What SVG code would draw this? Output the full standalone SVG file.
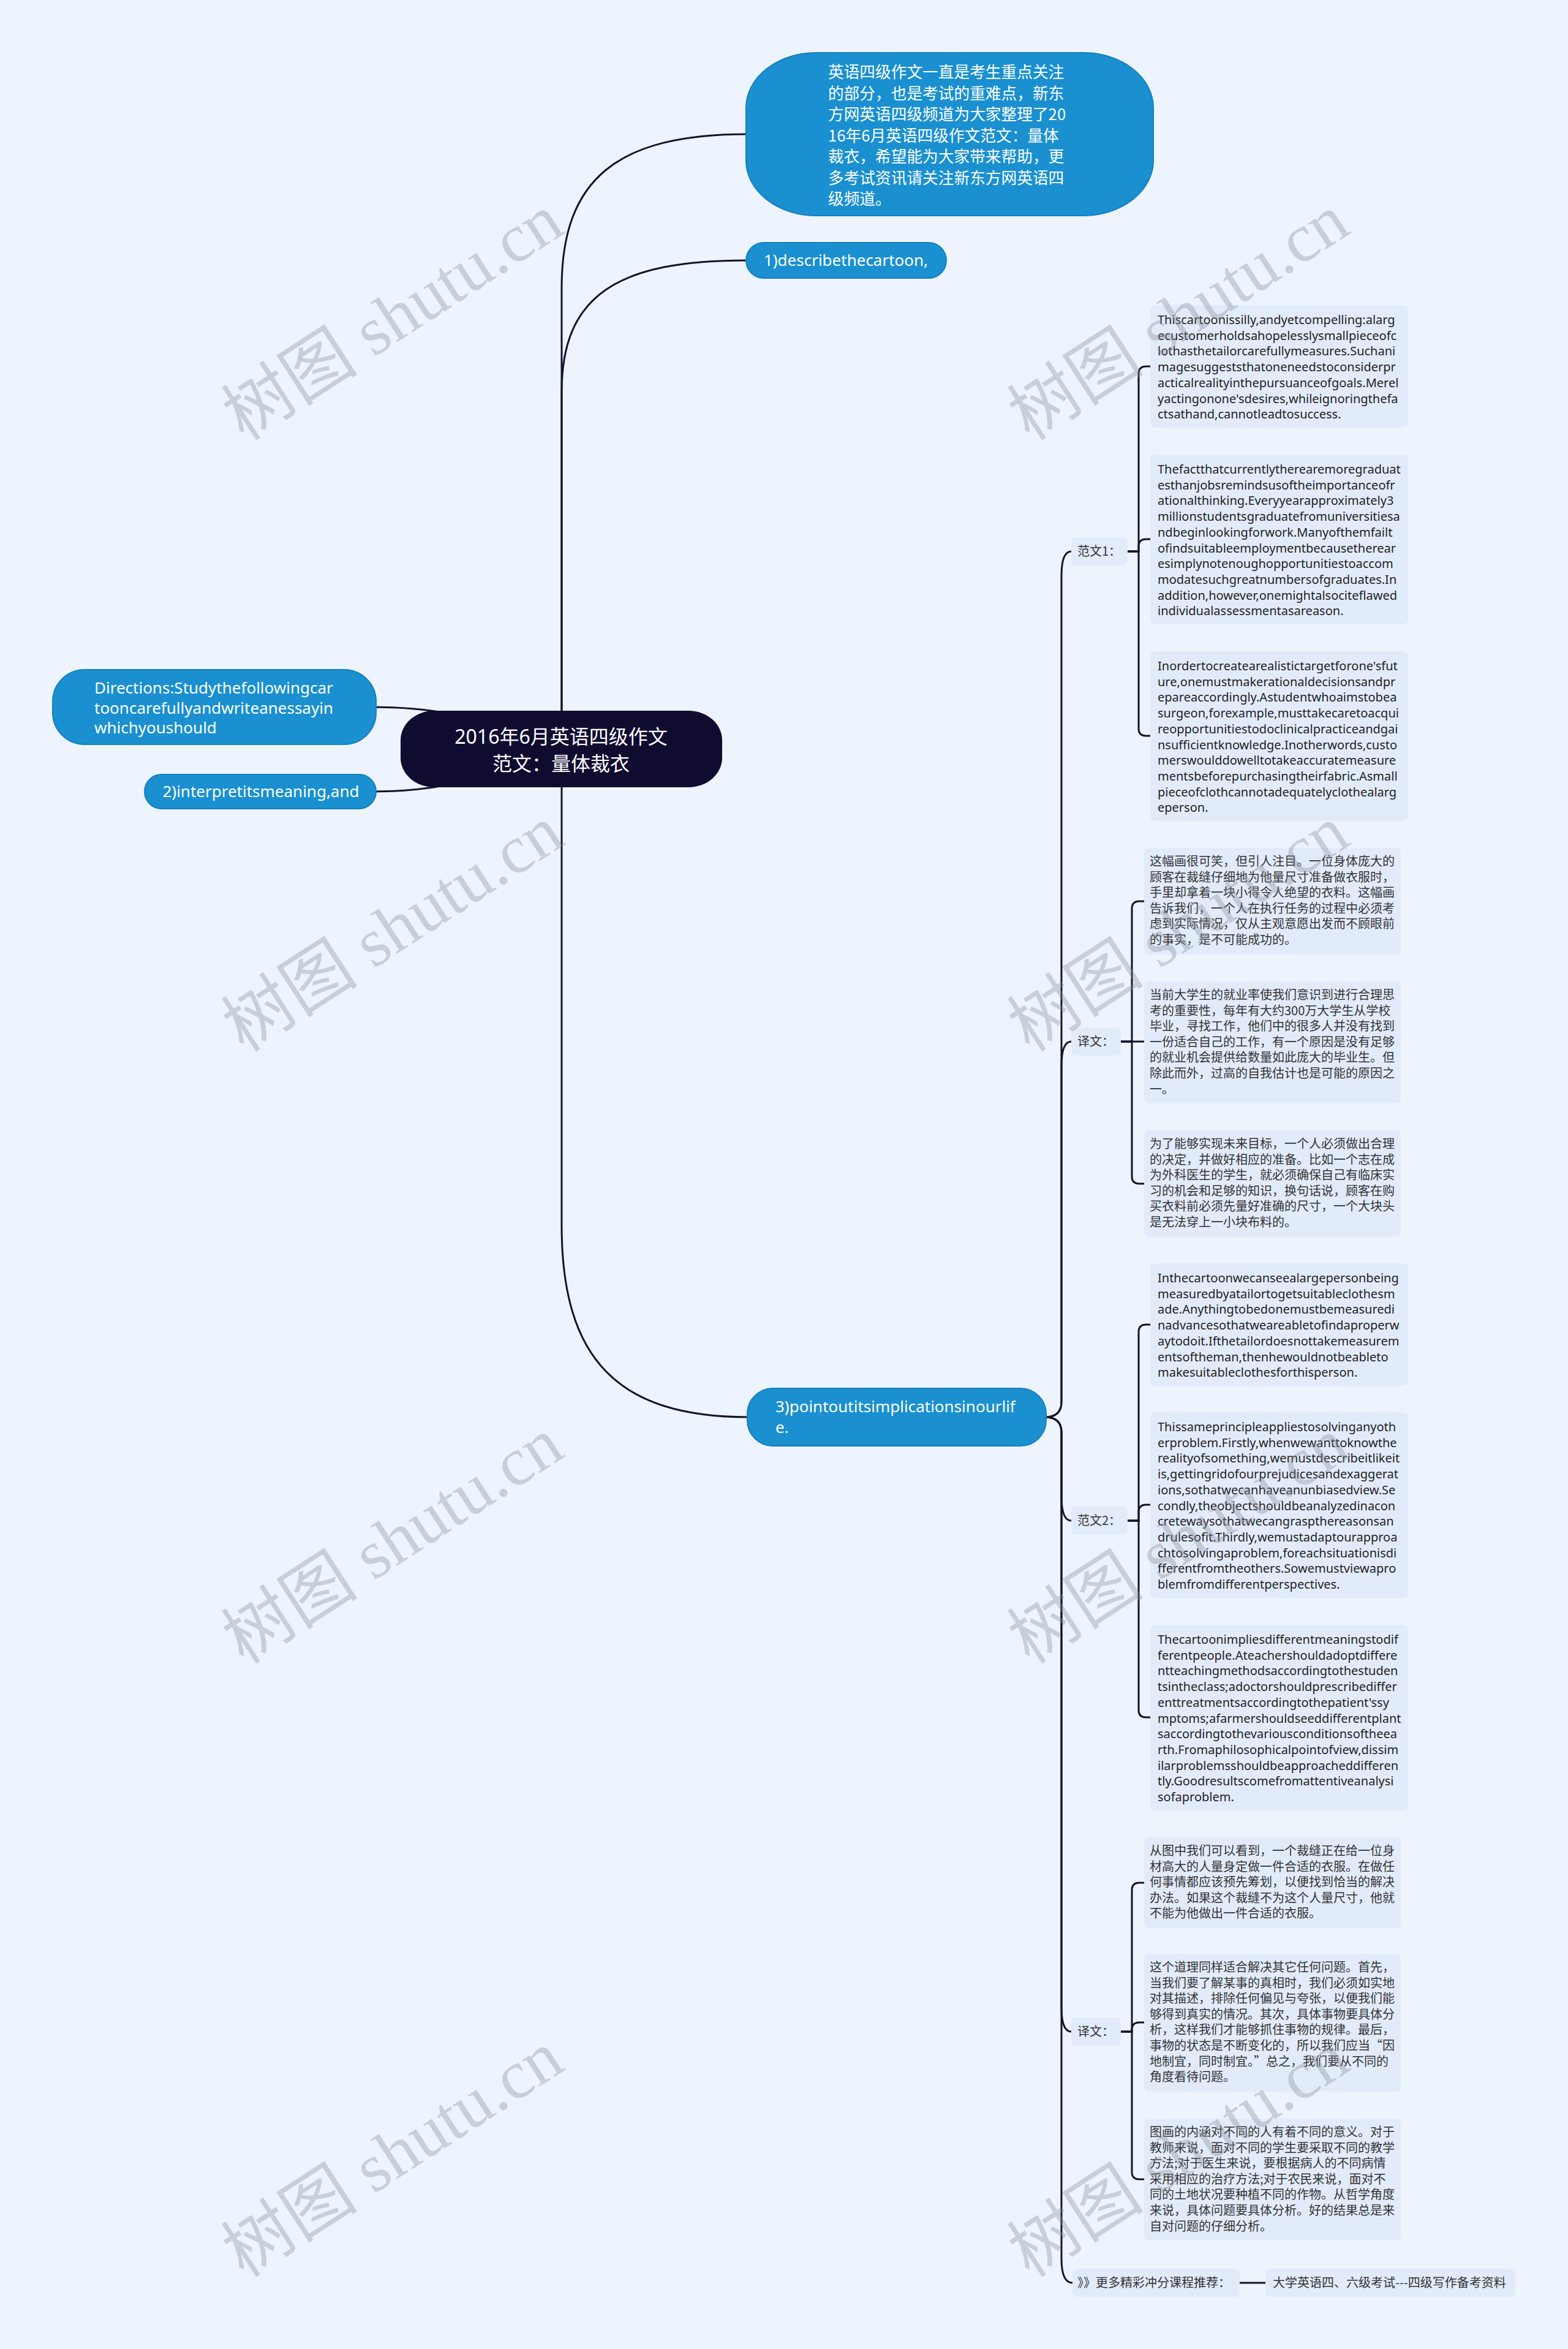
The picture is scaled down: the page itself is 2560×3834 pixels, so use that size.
<svg xmlns="http://www.w3.org/2000/svg" width="2560" height="3834" viewBox="0 0 2560 3834">
<style>
.cn{fill:none;stroke:#15122f;stroke-width:3;stroke-linecap:round}
.blue{fill:#1a90d0;stroke:#1680bf;stroke-width:2}
.wt{fill:#ffffff;font-family:"Noto Sans","Noto Sans CJK SC",sans-serif;font-size:26px}
.wz{fill:#ffffff;font-family:"Noto Sans CJK SC",sans-serif;font-size:25.7px}
.box{fill:#e2ebfa}
.en{fill:#222222;font-family:"Noto Sans","Noto Sans CJK SC",sans-serif;font-size:20px}
.zh{fill:#333333;font-family:"Noto Sans CJK SC",sans-serif;font-size:20px}
.wm{fill:#8a8f99;opacity:0.36;font-family:"Liberation Serif","Noto Sans CJK SC",serif;font-size:112px}
</style>
<rect x="0" y="0" width="2560" height="3834" fill="#eef4fd"/>

<g id="connectors">
<path class="cn" d="M917,1160 L917,470 C917,290 1010,219 1220,219"/>
<path class="cn" d="M917,1160 L917,640 C917,480 1010,425 1220,425"/>
<path class="cn" d="M917,1285 L917,2000 C917,2220 1010,2313 1222,2313"/>
<path class="cn" d="M600,1154 C700,1154 720,1165 800,1172"/>
<path class="cn" d="M600,1292 C700,1292 720,1280 800,1272"/>
<path class="cn" d="M1706,2313 Q1733,2313 1733,2288 L1733,940 Q1733,900 1749,900"/>
<path class="cn" d="M1706,2313 Q1733,2313 1733,2288 L1733,1740 Q1733,1700 1749,1700"/>
<path class="cn" d="M1706,2313 Q1733,2313 1733,2338 L1733,2442 Q1733,2482 1749,2482"/>
<path class="cn" d="M1706,2313 Q1733,2313 1733,2338 L1733,3276 Q1733,3316 1749,3316"/>
<path class="cn" d="M1706,2313 Q1733,2313 1733,2338 L1733,3686 Q1733,3726 1751,3726"/>
<path class="cn" d="M1841,900 L1859,900 L1859,610 Q1859,598 1871,598 L1878,598"/>
<path class="cn" d="M1841,900 L1859,900 L1859,892 Q1859,880 1871,880 L1878,880"/>
<path class="cn" d="M1841,900 L1859,900 L1859,1189 Q1859,1201 1871,1201 L1878,1201"/>
<path class="cn" d="M1830,1700 L1848,1700 L1848,1483 Q1848,1471 1860,1471 L1868,1471"/>
<path class="cn" d="M1830,1700 L1868,1700"/>
<path class="cn" d="M1830,1700 L1848,1700 L1848,1920 Q1848,1932 1860,1932 L1868,1932"/>
<path class="cn" d="M1841,2482 L1859,2482 L1859,2174 Q1859,2162 1871,2162 L1878,2162"/>
<path class="cn" d="M1841,2482 L1859,2482 L1859,2468 Q1859,2456 1871,2456 L1878,2456"/>
<path class="cn" d="M1841,2482 L1859,2482 L1859,2791 Q1859,2803 1871,2803 L1878,2803"/>
<path class="cn" d="M1830,3316 L1848,3316 L1848,3085 Q1848,3073 1860,3073 L1868,3073"/>
<path class="cn" d="M1830,3316 L1848,3316 L1848,3313 Q1848,3301 1860,3301 L1868,3301"/>
<path class="cn" d="M1830,3316 L1848,3316 L1848,3545 Q1848,3557 1860,3557 L1868,3557"/>
<path class="cn" d="M2024,3726 L2066,3726"/>
</g>

<g id="center">
<rect x="654" y="1160" width="525" height="125" rx="55" ry="48" fill="#100c30"/>
<text x="916" y="1214" text-anchor="middle" style="fill:#fff;font-family:'Noto Sans','Noto Sans CJK SC',sans-serif;font-size:32px">2016年6月英语四级作文</text>
<text x="916" y="1258" text-anchor="middle" style="fill:#fff;font-family:'Noto Sans CJK SC',sans-serif;font-size:32px">范文：量体裁衣</text>
</g>

<g id="intro">
<rect class="blue" x="1218" y="86" width="665" height="266" rx="115" ry="90"/>
<text class="wz" x="1352" y="127"><tspan x="1352">英语四级作文一直是考生重点关注</tspan><tspan x="1352" dy="34.5">的部分，也是考试的重难点，新东</tspan><tspan x="1352" dy="34.5">方网英语四级频道为大家整理了20</tspan><tspan x="1352" dy="34.5">16年6月英语四级作文范文：量体</tspan><tspan x="1352" dy="34.5">裁衣，希望能为大家带来帮助，更</tspan><tspan x="1352" dy="34.5">多考试资讯请关注新东方网英语四</tspan><tspan x="1352" dy="34.5">级频道。</tspan></text>
</g>

<g id="n1">
<rect class="blue" x="1218" y="396" width="327" height="58" rx="29"/>
<text class="wt" x="1381" y="434" text-anchor="middle">1)describethecartoon,</text>
</g>

<g id="directions">
<rect class="blue" x="86" y="1093" width="528" height="122" rx="52"/>
<text class="wt" x="154" y="1132"><tspan x="154">Directions:Studythefollowingcar</tspan><tspan x="154" dy="32.5">tooncarefullyandwriteanessayin</tspan><tspan x="154" dy="32.5">whichyoushould</tspan></text>
</g>

<g id="n2">
<rect class="blue" x="236" y="1264" width="378" height="56" rx="28"/>
<text class="wt" x="426" y="1301" text-anchor="middle">2)interpretitsmeaning,and</text>
</g>

<g id="n3">
<rect class="blue" x="1220" y="2266" width="488" height="94" rx="42"/>
<text class="wt" x="1266" y="2305"><tspan x="1266">3)pointoutitsimplicationsinourlif</tspan><tspan x="1266" dy="34">e.</tspan></text>
</g>

<g id="label-fanwen1">
<rect class="box" x="1749" y="877" width="92" height="46" rx="8"/>
<text class="zh" x="1759" y="907">范文1：</text>
</g>
<g id="e1">
<rect class="box" x="1878" y="498" width="421" height="200" rx="8"/>
<text class="en" y="529"><tspan x="1890">Thiscartoonissilly,andyetcompelling:alarg</tspan><tspan x="1890" dy="25.7">ecustomerholdsahopelesslysmallpieceofc</tspan><tspan x="1890" dy="25.7">lothasthetailorcarefullymeasures.Suchani</tspan><tspan x="1890" dy="25.7">magesuggeststhatoneneedstoconsiderpr</tspan><tspan x="1890" dy="25.7">acticalrealityinthepursuanceofgoals.Merel</tspan><tspan x="1890" dy="25.7">yactingonone'sdesires,whileignoringthefa</tspan><tspan x="1890" dy="25.7">ctsathand,cannotleadtosuccess.</tspan></text>
</g>
<g id="e2">
<rect class="box" x="1878" y="742" width="421" height="277" rx="8"/>
<text class="en" y="773"><tspan x="1890">Thefactthatcurrentlytherearemoregraduat</tspan><tspan x="1890" dy="25.7">esthanjobsremindsusoftheimportanceofr</tspan><tspan x="1890" dy="25.7">ationalthinking.Everyyearapproximately3</tspan><tspan x="1890" dy="25.7">millionstudentsgraduatefromuniversitiesa</tspan><tspan x="1890" dy="25.7">ndbeginlookingforwork.Manyofthemfailt</tspan><tspan x="1890" dy="25.7">ofindsuitableemploymentbecausetherear</tspan><tspan x="1890" dy="25.7">esimplynotenoughopportunitiestoaccom</tspan><tspan x="1890" dy="25.7">modatesuchgreatnumbersofgraduates.In</tspan><tspan x="1890" dy="25.7">addition,however,onemightalsociteflawed</tspan><tspan x="1890" dy="25.7">individualassessmentasareason.</tspan></text>
</g>
<g id="e3">
<rect class="box" x="1878" y="1063" width="421" height="277" rx="8"/>
<text class="en" y="1094"><tspan x="1890">Inordertocreatearealistictargetforone'sfut</tspan><tspan x="1890" dy="25.7">ure,onemustmakerationaldecisionsandpr</tspan><tspan x="1890" dy="25.7">epareaccordingly.Astudentwhoaimstobea</tspan><tspan x="1890" dy="25.7">surgeon,forexample,musttakecaretoacqui</tspan><tspan x="1890" dy="25.7">reopportunitiestodoclinicalpracticeandgai</tspan><tspan x="1890" dy="25.7">nsufficientknowledge.Inotherwords,custo</tspan><tspan x="1890" dy="25.7">merswoulddowelltotakeaccuratemeasure</tspan><tspan x="1890" dy="25.7">mentsbeforepurchasingtheirfabric.Asmall</tspan><tspan x="1890" dy="25.7">pieceofclothcannotadequatelyclothealarg</tspan><tspan x="1890" dy="25.7">eperson.</tspan></text>
</g>

<g id="label-yiwen1">
<rect class="box" x="1749" y="1677" width="81" height="46" rx="8"/>
<text class="zh" x="1759" y="1707">译文：</text>
</g>
<g id="a1">
<rect class="box" x="1868" y="1384" width="419" height="174" rx="8"/>
<text class="zh" y="1413"><tspan x="1877">这幅画很可笑，但引人注目。一位身体庞大的</tspan><tspan x="1877" dy="25.6">顾客在裁缝仔细地为他量尺寸准备做衣服时，</tspan><tspan x="1877" dy="25.6">手里却拿着一块小得令人绝望的衣料。这幅画</tspan><tspan x="1877" dy="25.6">告诉我们，一个人在执行任务的过程中必须考</tspan><tspan x="1877" dy="25.6">虑到实际情况，仅从主观意愿出发而不顾眼前</tspan><tspan x="1877" dy="25.6">的事实，是不可能成功的。</tspan></text>
</g>
<g id="a2">
<rect class="box" x="1868" y="1602" width="419" height="199" rx="8"/>
<text class="zh" y="1631"><tspan x="1877">当前大学生的就业率使我们意识到进行合理思</tspan><tspan x="1877" dy="25.6">考的重要性，每年有大约300万大学生从学校</tspan><tspan x="1877" dy="25.6">毕业，寻找工作，他们中的很多人并没有找到</tspan><tspan x="1877" dy="25.6">一份适合自己的工作，有一个原因是没有足够</tspan><tspan x="1877" dy="25.6">的就业机会提供给数量如此庞大的毕业生。但</tspan><tspan x="1877" dy="25.6">除此而外，过高的自我估计也是可能的原因之</tspan><tspan x="1877" dy="25.6">一。</tspan></text>
</g>
<g id="a3">
<rect class="box" x="1868" y="1845" width="419" height="174" rx="8"/>
<text class="zh" y="1874"><tspan x="1877">为了能够实现未来目标，一个人必须做出合理</tspan><tspan x="1877" dy="25.6">的决定，并做好相应的准备。比如一个志在成</tspan><tspan x="1877" dy="25.6">为外科医生的学生，就必须确保自己有临床实</tspan><tspan x="1877" dy="25.6">习的机会和足够的知识，换句话说，顾客在购</tspan><tspan x="1877" dy="25.6">买衣料前必须先量好准确的尺寸，一个大块头</tspan><tspan x="1877" dy="25.6">是无法穿上一小块布料的。</tspan></text>
</g>

<g id="label-fanwen2">
<rect class="box" x="1749" y="2459" width="92" height="46" rx="8"/>
<text class="zh" x="1759" y="2489">范文2：</text>
</g>
<g id="b1">
<rect class="box" x="1878" y="2062" width="421" height="200" rx="8"/>
<text class="en" y="2093"><tspan x="1890">Inthecartoonwecanseealargepersonbeing</tspan><tspan x="1890" dy="25.7">measuredbyatailortogetsuitableclothesm</tspan><tspan x="1890" dy="25.7">ade.Anythingtobedonemustbemeasuredi</tspan><tspan x="1890" dy="25.7">nadvancesothatweareabletofindaproperw</tspan><tspan x="1890" dy="25.7">aytodoit.Ifthetailordoesnottakemeasurem</tspan><tspan x="1890" dy="25.7">entsoftheman,thenhewouldnotbeableto</tspan><tspan x="1890" dy="25.7">makesuitableclothesforthisperson.</tspan></text>
</g>
<g id="b2">
<rect class="box" x="1878" y="2305" width="421" height="303" rx="8"/>
<text class="en" y="2336"><tspan x="1890">Thissameprincipleappliestosolvinganyoth</tspan><tspan x="1890" dy="25.7">erproblem.Firstly,whenwewanttoknowthe</tspan><tspan x="1890" dy="25.7">realityofsomething,wemustdescribeitlikeit</tspan><tspan x="1890" dy="25.7">is,gettingridofourprejudicesandexaggerat</tspan><tspan x="1890" dy="25.7">ions,sothatwecanhaveanunbiasedview.Se</tspan><tspan x="1890" dy="25.7">condly,theobjectshouldbeanalyzedinacon</tspan><tspan x="1890" dy="25.7">cretewaysothatwecangraspthereasonsan</tspan><tspan x="1890" dy="25.7">drulesofit.Thirdly,wemustadaptourapproa</tspan><tspan x="1890" dy="25.7">chtosolvingaproblem,foreachsituationisdi</tspan><tspan x="1890" dy="25.7">fferentfromtheothers.Sowemustviewapro</tspan><tspan x="1890" dy="25.7">blemfromdifferentperspectives.</tspan></text>
</g>
<g id="b3">
<rect class="box" x="1878" y="2652" width="421" height="303" rx="8"/>
<text class="en" y="2683"><tspan x="1890">Thecartoonimpliesdifferentmeaningstodif</tspan><tspan x="1890" dy="25.7">ferentpeople.Ateachershouldadoptdiffere</tspan><tspan x="1890" dy="25.7">ntteachingmethodsaccordingtothestuden</tspan><tspan x="1890" dy="25.7">tsintheclass;adoctorshouldprescribediffer</tspan><tspan x="1890" dy="25.7">enttreatmentsaccordingtothepatient'ssy</tspan><tspan x="1890" dy="25.7">mptoms;afarmershouldseeddifferentplant</tspan><tspan x="1890" dy="25.7">saccordingtothevariousconditionsoftheea</tspan><tspan x="1890" dy="25.7">rth.Fromaphilosophicalpointofview,dissim</tspan><tspan x="1890" dy="25.7">ilarproblemsshouldbeapproacheddifferen</tspan><tspan x="1890" dy="25.7">tly.Goodresultscomefromattentiveanalysi</tspan><tspan x="1890" dy="25.7">sofaproblem.</tspan></text>
</g>

<g id="label-yiwen2">
<rect class="box" x="1749" y="3293" width="81" height="46" rx="8"/>
<text class="zh" x="1759" y="3323">译文：</text>
</g>
<g id="c1">
<rect class="box" x="1868" y="2999" width="419" height="148" rx="8"/>
<text class="zh" y="3028"><tspan x="1877">从图中我们可以看到，一个裁缝正在给一位身</tspan><tspan x="1877" dy="25.6">材高大的人量身定做一件合适的衣服。在做任</tspan><tspan x="1877" dy="25.6">何事情都应该预先筹划，以便找到恰当的解决</tspan><tspan x="1877" dy="25.6">办法。如果这个裁缝不为这个人量尺寸，他就</tspan><tspan x="1877" dy="25.6">不能为他做出一件合适的衣服。</tspan></text>
</g>
<g id="c2">
<rect class="box" x="1868" y="3189" width="419" height="225" rx="8"/>
<text class="zh" y="3218"><tspan x="1877">这个道理同样适合解决其它任何问题。首先，</tspan><tspan x="1877" dy="25.6">当我们要了解某事的真相时，我们必须如实地</tspan><tspan x="1877" dy="25.6">对其描述，排除任何偏见与夸张，以便我们能</tspan><tspan x="1877" dy="25.6">够得到真实的情况。其次，具体事物要具体分</tspan><tspan x="1877" dy="25.6">析，这样我们才能够抓住事物的规律。最后，</tspan><tspan x="1877" dy="25.6">事物的状态是不断变化的，所以我们应当“因</tspan><tspan x="1877" dy="25.6">地制宜，同时制宜。”总之，我们要从不同的</tspan><tspan x="1877" dy="25.6">角度看待问题。</tspan></text>
</g>
<g id="c3">
<rect class="box" x="1868" y="3458" width="419" height="199" rx="8"/>
<text class="zh" y="3487"><tspan x="1877">图画的内涵对不同的人有着不同的意义。对于</tspan><tspan x="1877" dy="25.6">教师来说，面对不同的学生要采取不同的教学</tspan><tspan x="1877" dy="25.6">方法;对于医生来说，要根据病人的不同病情</tspan><tspan x="1877" dy="25.6">采用相应的治疗方法;对于农民来说，面对不</tspan><tspan x="1877" dy="25.6">同的土地状况要种植不同的作物。从哲学角度</tspan><tspan x="1877" dy="25.6">来说，具体问题要具体分析。好的结果总是来</tspan><tspan x="1877" dy="25.6">自对问题的仔细分析。</tspan></text>
</g>

<g id="label-more">
<rect class="box" x="1751" y="3703" width="273" height="46" rx="8"/>
<text class="zh" x="1759" y="3733">》》更多精彩冲分课程推荐：</text>
</g>
<g id="more-link">
<rect class="box" x="2066" y="3703" width="408" height="46" rx="8"/>
<text class="zh" x="2078" y="3733">大学英语四、六级考试---四级写作备考资料</text>
</g>

<g id="watermarks">
<text class="wm" transform="translate(641,518) rotate(-33)" x="0" y="38" text-anchor="middle">树图 shutu.cn</text>
<text class="wm" transform="translate(641,1516) rotate(-33)" x="0" y="38" text-anchor="middle">树图 shutu.cn</text>
<text class="wm" transform="translate(641,2515) rotate(-33)" x="0" y="38" text-anchor="middle">树图 shutu.cn</text>
<text class="wm" transform="translate(641,3516) rotate(-33)" x="0" y="38" text-anchor="middle">树图 shutu.cn</text>
<text class="wm" transform="translate(1924,518) rotate(-33)" x="0" y="38" text-anchor="middle">树图 shutu.cn</text>
<text class="wm" transform="translate(1924,1516) rotate(-33)" x="0" y="38" text-anchor="middle">树图 shutu.cn</text>
<text class="wm" transform="translate(1924,2515) rotate(-33)" x="0" y="38" text-anchor="middle">树图 shutu.cn</text>
<text class="wm" transform="translate(1924,3516) rotate(-33)" x="0" y="38" text-anchor="middle">树图 shutu.cn</text>
</g>
</svg>
